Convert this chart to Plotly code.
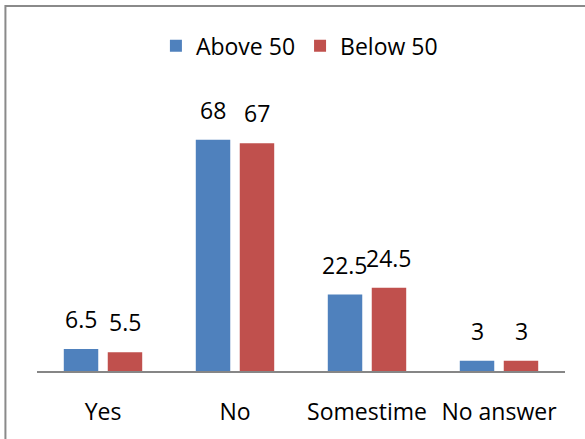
import plotly.graph_objects as go

# Survey answers by age group
categories = ["Yes", "No", "Somestime", "No answer"]
above_50 = [6.5, 68, 22.5, 3]
below_50 = [5.5, 67, 24.5, 3]
series_names = ["Above 50", "Below 50"]
colors = ["#4F81BD", "#C0504D"]

FONT = "Open Sans"
FS = 23

fig = go.Figure()
for name, vals, col in zip(series_names, [above_50, below_50], colors):
    fig.add_trace(go.Bar(name=name, x=categories, y=vals, marker_color=col,
                         marker_line_width=0))

# value labels above each bar
offsets = [-22, 22]
for vals, dx in zip([above_50, below_50], offsets):
    for cat, v in zip(categories, vals):
        fig.add_annotation(x=cat, y=v, xref="x", yref="y", text=f"{v:g}",
                           showarrow=False, xshift=dx, yshift=12,
                           yanchor="bottom", xanchor="center",
                           font=dict(family=FONT, size=FS, color="#000000"))

# outer chart frame
fig.add_shape(type="rect", xref="paper", yref="paper",
              x0=-0.0598, x1=1.3, y0=-0.5, y1=1.3418,
              line=dict(color="#8A8A8A", width=2), fillcolor="rgba(0,0,0,0)",
              layer="below")

fig.update_layout(
    width=585, height=439,
    margin=dict(l=37, r=20, t=99, b=65),
    paper_bgcolor="white", plot_bgcolor="white",
    barmode="group", bargap=0.334, bargroupgap=0.216,
    font=dict(family=FONT, size=FS, color="#000000"),
    showlegend=True,
    legend=dict(orientation="h", x=0.497, xanchor="center", y=1.196,
                yanchor="middle", font=dict(family=FONT, size=FS),
                bgcolor="rgba(0,0,0,0)", itemclick=False),
    xaxis=dict(showline=True, linecolor="#868686", linewidth=1.5,
               showgrid=False, ticks="", ticklabelstandoff=20,
               tickfont=dict(family=FONT, size=FS, color="#000000"),
               fixedrange=True),
    yaxis=dict(range=[0, 80], visible=False, showgrid=False,
               zeroline=False, fixedrange=True),
)

fig.write_html("out.html")
